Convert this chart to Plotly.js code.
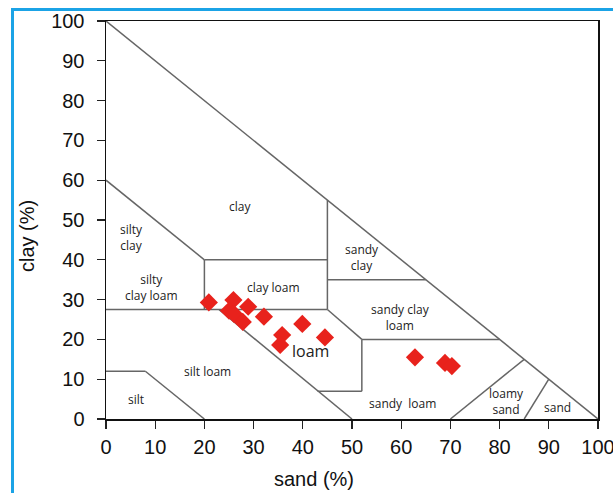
<!DOCTYPE html>
<html>
<head>
<meta charset="utf-8">
<script src="https://cdn.plot.ly/plotly-3.0.1.min.js"></script>
<style>
html,body{margin:0;padding:0;background:#fff;}
#wrap{position:relative;width:613px;height:493px;overflow:hidden;}
#chart{position:absolute;left:0;top:0;width:613px;height:493px;}
#frame{position:absolute;left:11px;top:8px;width:700px;height:600px;border-left:3px solid #1ba3e6;border-top:3px solid #1ba3e6;pointer-events:none;}
</style>
</head>
<body>
<div id="wrap"><div id="chart"></div><div id="frame"></div></div>
<script>
// Soil samples (sand %, clay %)
const sandValues = [20.9, 25.9, 25.0, 26.0, 28.9, 27.8, 32.1, 39.9, 35.8, 35.4, 44.5, 62.8, 68.9, 70.3];
const clayValues = [29.3, 29.9, 27.2, 26.4, 28.2, 24.4, 25.7, 23.9, 21.1, 18.6, 20.5, 15.5, 14.1, 13.3];

// Texture class boundaries: [sand1, clay1, sand2, clay2]
const boundarySegments = [
  [0, 100, 100, 0],
  [0, 60, 20, 40],
  [20, 40, 45, 40],
  [45, 27.5, 45, 55],
  [45, 35, 65, 35],
  [0, 27.5, 45, 27.5],
  [20, 27.5, 20, 40],
  [23, 27.5, 50, 0],
  [45, 27.5, 52, 20],
  [52, 20, 80, 20],
  [52, 20, 52, 7],
  [43, 7, 52, 7],
  [0, 12, 8, 12],
  [8, 12, 20, 0],
  [70, 0, 85, 15],
  [85, 0, 90, 10]
];

// Texture class labels
const classNames = ["clay", "silty<br>clay", "sandy<br>clay", "silty<br>clay loam", "clay loam", "sandy clay<br>loam", "loam", "silt loam", "silt", "sandy  loam", "loamy<br>sand", "sand"];
const classSand  = [27.2, 5.1, 52.0, 9.3, 34.0, 59.8, 41.5, 20.7, 6.1, 60.2, 81.5, 91.7];
const classClay  = [53.5, 45.7, 40.5, 33.0, 33.0, 25.4, 17.0, 12.0, 4.8, 4.0, 4.5, 3.0];
const classSize  = [12, 12, 12, 12, 12, 12, 16, 12, 12, 12, 12, 12];

const tickVals = [0, 10, 20, 30, 40, 50, 60, 70, 80, 90, 100];

const bx = [], by = [];
boundarySegments.forEach(s => { bx.push(s[0], s[2], null); by.push(s[1], s[3], null); });

const traces = [
  {x: bx, y: by, mode: 'lines', type: 'scatter', line: {color: '#666666', width: 1.5}, hoverinfo: 'skip', showlegend: false},
  {x: sandValues, y: clayValues, mode: 'markers', type: 'scatter',
   marker: {symbol: 'diamond', size: 14, color: '#e8221c'}, showlegend: false}
];

const annotations = classNames.map((t, i) => ({
  x: classSand[i], y: classClay[i], xref: 'x', yref: 'y', text: t, showarrow: false,
  font: {family: 'Open Sans, Liberation Sans, sans-serif', size: classSize[i], color: '#222'}
}));
annotations.push({xref: 'paper', yref: 'paper', x: (314 - 106) / 492, y: (419 - 479) / 398, xanchor: 'center', yanchor: 'middle',
  text: 'sand (%)', showarrow: false,
  font: {family: 'Liberation Sans, Arial, sans-serif', size: 20, color: '#111'}});
annotations.push({xref: 'paper', yref: 'paper', x: (27 - 106) / 492, y: (419 - 236) / 398, xanchor: 'center', yanchor: 'middle',
  text: 'clay (%)', showarrow: false, textangle: -90,
  font: {family: 'Liberation Sans, Arial, sans-serif', size: 20, color: '#111'}});

const axisCommon = {
  range: [0, 100], tickvals: tickVals, ticks: 'outside', ticklen: 8, tickwidth: 1.2, tickcolor: '#222',
  showline: true, linecolor: '#111', linewidth: 1.5, mirror: true, showgrid: false, zeroline: false,
  ticklabeloverflow: 'allow',
  tickfont: {family: 'Liberation Sans, Arial, sans-serif', size: 20, color: '#111'}
};

const layout = {
  width: 613, height: 493,
  margin: {l: 106, r: 15, t: 21, b: 74},
  paper_bgcolor: '#fff', plot_bgcolor: '#fff',
  xaxis: Object.assign({}, axisCommon, {ticklabelstandoff: 1}),
  yaxis: Object.assign({}, axisCommon, {ticklabelstandoff: 8}),
  annotations: annotations,
  showlegend: false
};

Plotly.newPlot('chart', traces, layout, {displayModeBar: false, staticPlot: true});
</script>
</body>
</html>
